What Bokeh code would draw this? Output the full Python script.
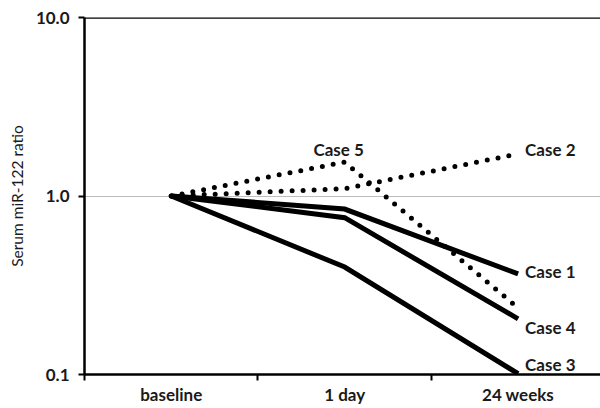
from bokeh.plotting import figure
from bokeh.models import FixedTicker, CustomJSTickFormatter, Span, Range1d, Label
from bokeh.embed import file_html
from bokeh.resources import INLINE

categories = ["baseline", "1 day", "24 weeks"]
case1 = [1.0, 0.845, 0.366]
case2 = [1.0, 1.10, 1.72]
case3 = [1.0, 0.40, 0.101]
case4 = [1.0, 0.756, 0.205]
case5 = [1.0, 1.55, 0.236]
y_ticks = [0.1, 1.0, 10.0]

xs = [i + 0.5 for i in range(len(categories))]

p = figure(width=600, height=408, output_backend="svg", toolbar_location=None,
           y_axis_type="log", x_range=Range1d(0, 2.975), y_range=Range1d(0.1, 10),
           min_border_left=84, min_border_top=17, min_border_bottom=34, min_border_right=0)
p.outline_line_color = None
p.background_fill_color = "white"

FONT = "Lato"
TXT = "#1a1a1a"

# x axis
p.xaxis.ticker = FixedTicker(ticks=xs, minor_ticks=list(range(len(categories) + 1)))
p.xaxis.major_label_overrides = {x: c for x, c in zip(xs, categories)}
p.xaxis.major_tick_line_color = None
p.xaxis.major_tick_out = 0
p.xaxis.major_tick_in = 0
p.xaxis.minor_tick_out = 6
p.xaxis.minor_tick_in = 0
p.xaxis.minor_tick_line_width = 2
p.xaxis.minor_tick_line_color = "black"
p.xaxis.axis_line_width = 2.5
p.xaxis.axis_line_color = "black"
p.xaxis.major_label_text_font = FONT
p.xaxis.major_label_text_font_style = "bold"
p.xaxis.major_label_text_font_size = "17px"
p.xaxis.major_label_text_color = TXT
p.xaxis.major_label_standoff = 3

# y axis
p.yaxis.ticker = FixedTicker(ticks=y_ticks, minor_ticks=[])
p.yaxis.formatter = CustomJSTickFormatter(code="return tick.toFixed(1);")
p.yaxis.major_tick_out = 6
p.yaxis.major_tick_in = 0
p.yaxis.major_tick_line_width = 2
p.yaxis.axis_line_width = 2.5
p.yaxis.axis_line_color = "black"
p.yaxis.major_label_text_font = FONT
p.yaxis.major_label_text_font_style = "bold"
p.yaxis.major_label_text_font_size = "17px"
p.yaxis.major_label_text_color = TXT
p.yaxis.major_label_standoff = 9
p.yaxis.axis_label = "Serum miR-122 ratio"
p.yaxis.axis_label_text_font = FONT
p.yaxis.axis_label_text_font_style = "normal"
p.yaxis.axis_label_text_font_size = "15.5px"
p.yaxis.axis_label_text_color = TXT
p.yaxis.axis_label_standoff = 7

p.xgrid.grid_line_color = None
p.ygrid.ticker = FixedTicker(ticks=[1.0], minor_ticks=[])
p.ygrid.grid_line_color = "#bdbdbd"
p.ygrid.grid_line_width = 1

p.add_layout(Span(location=10, dimension="width", line_color="black", line_width=2.5))

solid = dict(line_color="black", line_width=5, line_join="miter")
dotted = dict(line_color="black", line_width=5, line_dash="0 11", line_cap="round")

for ys in (case1, case3, case4):
    p.line(xs, ys, **solid)
for ys in (case5, case2):
    p.line(xs, ys, **dotted)

label_style = dict(text_font=FONT, text_font_style="bold", text_font_size="17px",
                   text_color=TXT, text_baseline="middle")
last = xs[-1]
for name, ys, dy in (("Case 1", case1, 2), ("Case 2", case2, 4),
                     ("Case 3", case3, 9), ("Case 4", case4, -9)):
    p.add_layout(Label(x=last, y=ys[-1], text=name, x_offset=7, y_offset=dy, **label_style))
p.add_layout(Label(x=xs[1], y=case5[1], text="Case 5", x_offset=-6, y_offset=13,
                   text_align="center", **label_style))

open("out.html", "w").write(file_html(p, INLINE))
